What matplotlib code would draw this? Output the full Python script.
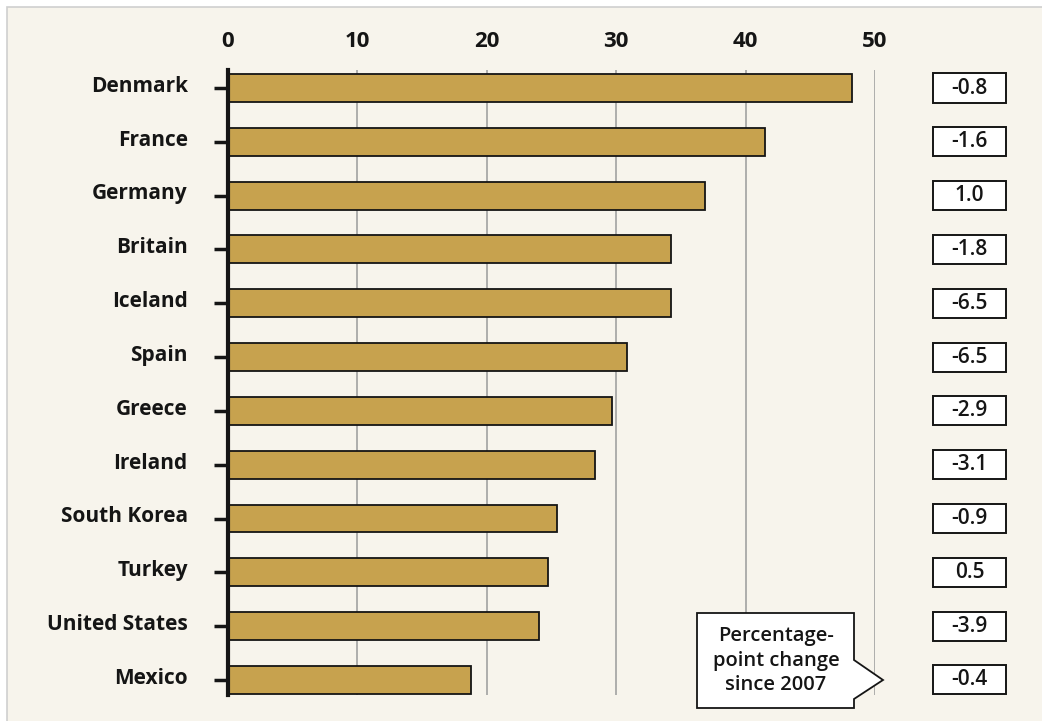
import matplotlib
matplotlib.use('Agg')
import matplotlib.pyplot as plt
from matplotlib.patches import Rectangle, Polygon
from matplotlib.transforms import blended_transform_factory, ScaledTranslation

countries = ['Denmark', 'France', 'Germany', 'Britain', 'Iceland', 'Spain',
             'Greece', 'Ireland', 'South Korea', 'Turkey', 'United States', 'Mexico']
values = [48.2, 41.5, 36.9, 34.2, 34.2, 30.8, 29.7, 28.4, 25.4, 24.7, 24.0, 18.8]
changes = ['-0.8', '-1.6', '1.0', '-1.8', '-6.5', '-6.5', '-2.9', '-3.1',
           '-0.9', '0.5', '-3.9', '-0.4']
xticks = [0, 10, 20, 30, 40, 50]
note = 'Percentage-\npoint change\nsince 2007'

W, H = 1042, 721
cream = '#f7f4ec'
gold = '#c7a24e'
ink = '#151515'

plt.rcParams['font.family'] = ['Open Sans', 'DejaVu Sans']

fig = plt.figure(figsize=(W / 100, H / 100), dpi=100, facecolor='white')

def fx(px):
    return px / W

def fy(py):
    return 1 - py / H

# background panel with thin grey frame
fig.patches.append(Rectangle((fx(7), fy(730)), fx(1050), 723 / H, transform=fig.transFigure,
                             facecolor=cream, edgecolor='#cfcfcf', linewidth=1.2, zorder=-5))

ax = fig.add_axes([fx(228), fy(695), fx(875) - fx(228), (695 - 70) / H])
ax.set_facecolor('none')

rows = list(range(len(countries)))
ax.barh(rows, values, height=0.52, color=gold, edgecolor=ink, linewidth=1.3, zorder=3)

ax.set_xlim(0, 50)
ax.set_ylim(11.28, -0.335)
for x in xticks[1:]:
    ax.axvline(x, color='#9a9a9a', linewidth=1.1, zorder=1)

for s in ['top', 'right', 'bottom']:
    ax.spines[s].set_visible(False)
ax.spines['left'].set_linewidth(3)
ax.spines['left'].set_color(ink)
ax.spines['left'].set_zorder(4)

ax.xaxis.tick_top()
ax.set_xticks(xticks)
ax.set_xticklabels([str(x) for x in xticks], fontsize=16, fontweight='bold', color=ink)
ax.tick_params(axis='x', length=0, pad=13)

ax.set_yticks(rows)
ax.set_yticklabels(countries, fontsize=15, fontweight='bold', color=ink)
ax.tick_params(axis='y', length=10, width=2.5, color=ink, pad=19)
lift = ScaledTranslation(0, 3 / 72, fig.dpi_scale_trans)
for lab in ax.get_yticklabels():
    lab.set_transform(lab.get_transform() + lift)

# change boxes on the right
tr = blended_transform_factory(fig.transFigure, ax.transData)
for r, c in zip(rows, changes):
    ax.add_patch(Rectangle((fx(933), r - 0.27), fx(73), 0.54, transform=tr, clip_on=False,
                           facecolor='white', edgecolor=ink, linewidth=1.4))
    ax.text(fx(969.5), r, c, transform=tr, ha='center', va='center',
            fontsize=15, fontweight='semibold', color=ink)

# callout
pts = [(697, 613), (854, 613), (854, 660), (883, 680), (854, 699), (854, 708), (697, 708)]
fig.patches.append(Polygon([(fx(a), fy(b)) for a, b in pts], closed=True,
                           transform=fig.transFigure, facecolor='white',
                           edgecolor=ink, linewidth=1.3, zorder=5))
fig.text(fx(776), fy(661), note, ha='center', va='center', fontsize=14.5,
         fontweight='semibold', color=ink, linespacing=1.3, zorder=6)

fig.savefig('out.png', dpi=100, facecolor='white')
